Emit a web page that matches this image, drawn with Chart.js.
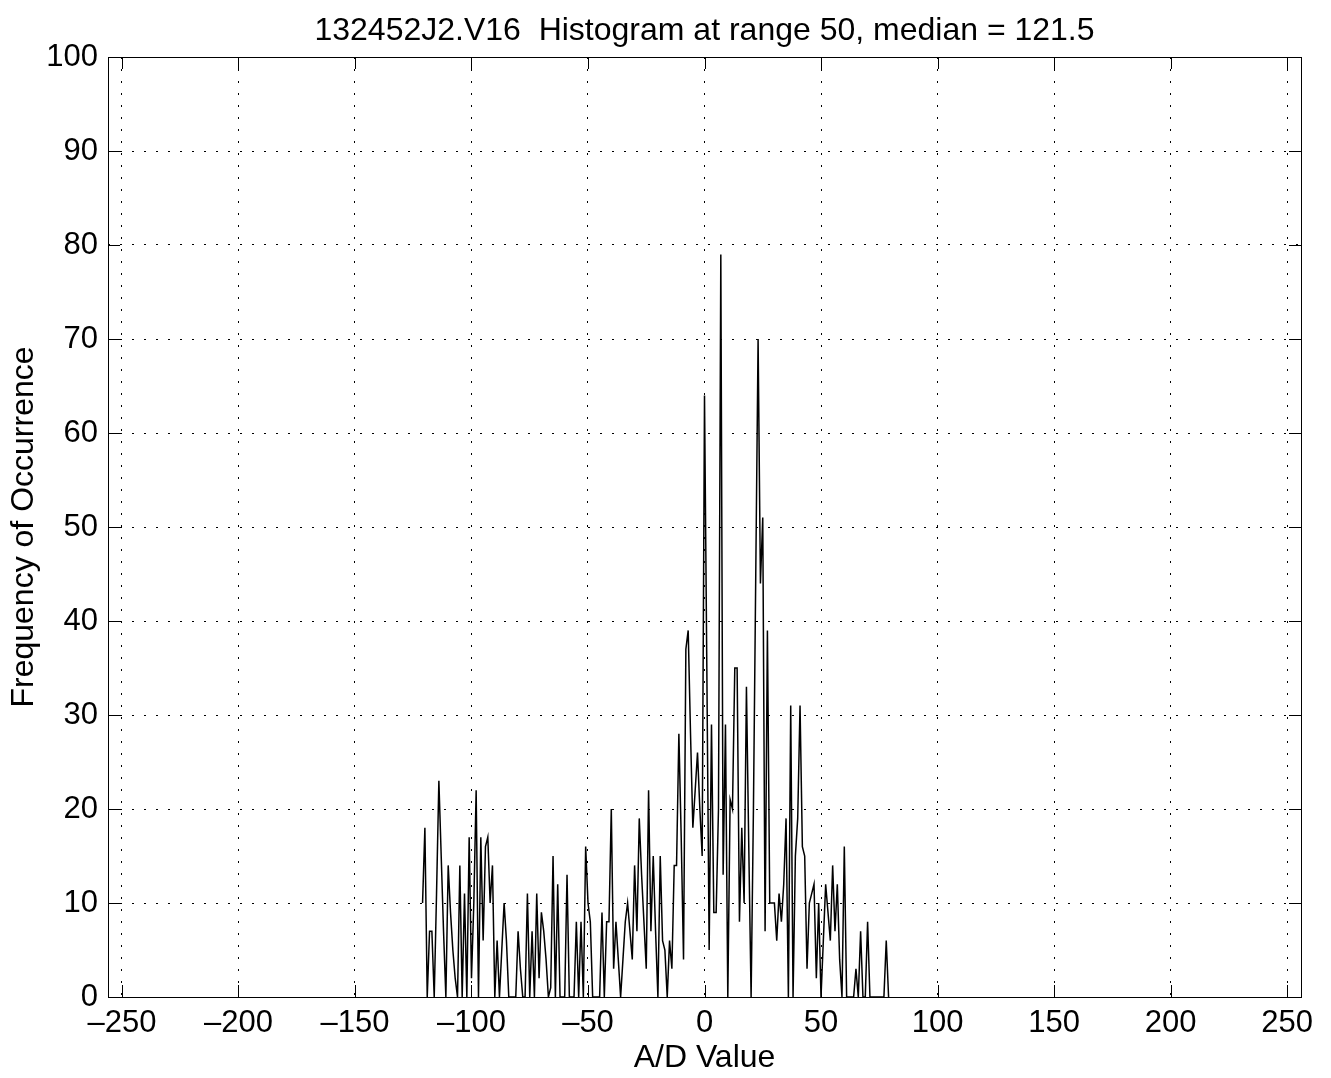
<!DOCTYPE html>
<html>
<head>
<meta charset="utf-8">
<script src="https://cdn.jsdelivr.net/npm/chart.js@4.4.1/dist/chart.umd.min.js"></script>
<style>
  html, body { margin: 0; padding: 0; background: #fff; }
  #wrap { width: 1331px; height: 1078px; }
</style>
</head>
<body>
<div id="wrap"><canvas id="histo" width="1331" height="1078"></canvas></div>
<script>
// A/D values start here and go up by one per count
const firstValue = -121;
const counts = [
  10, 18, 0, 7, 7, 0, 11, 23, 15, 7,          // -121 .. -112
  0, 14, 9, 5, 2, 0, 14, 0, 11, 0,            // -111 .. -102
  17, 2, 10, 22, 0, 17, 6, 16, 17, 10,        // -101 .. -92
  14, 0, 6, 0, 5, 10, 6, 0, 0, 0,             // -91 .. -82
  0, 7, 3, 0, 0, 11, 0, 7, 0, 11,             // -81 .. -72
  2, 9, 7, 4, 0, 1, 15, 0, 12, 0,             // -71 .. -62
  0, 0, 13, 0, 0, 0, 8, 0, 8, 0,              // -61 .. -52
  16, 10, 8, 0, 0, 0, 0, 9, 0, 8,             // -51 .. -42
  8, 20, 3, 8, 4, 0, 4, 8, 10, 7,             // -41 .. -32
  4, 14, 7, 19, 13, 8, 3, 22, 7, 15,          // -31 .. -22
  7, 0, 15, 6, 5, 0, 6, 3, 14, 14,            // -21 .. -12
  28, 17, 4, 37, 39, 28, 18, 22, 26, 20,      // -11 .. -2
  15, 64, 35, 5, 29, 9, 9, 20, 79, 13,        // -1 .. 8
  29, 0, 21, 20, 35, 35, 8, 18, 10, 33,       // 9 .. 18
  16, 0, 20, 45, 70, 44, 51, 7, 39, 10,       // 19 .. 28
  10, 10, 6, 11, 8, 12, 19, 0, 31, 0,         // 29 .. 38
  15, 19, 31, 16, 15, 3, 10, 11, 12, 2,       // 39 .. 48
  10, 0, 6, 12, 9, 6, 14, 7, 12, 4,           // 49 .. 58
  0, 16, 0, 0, 0, 0, 3, 0, 7, 0,              // 59 .. 68
  0, 8, 0, 0, 0, 0, 0, 0, 0, 6,               // 69 .. 78
  0                                           // 79
];
const xTicks = [-250, -200, -150, -100, -50, 0, 50, 100, 150, 200, 250];
const yTicks = [0, 10, 20, 30, 40, 50, 60, 70, 80, 90, 100];

const points = counts.map((c, i) => ({ x: firstValue + i, y: c }));

const FONT = "'Liberation Sans', Arial, Helvetica, sans-serif";
const dash = (v) => String(v).replace('-', '\u2013');

// box round the plot with inward tick marks on all four sides
const frame = {
  id: 'frame',
  afterDraw(chart) {
    const { ctx, chartArea: a, scales: { x, y } } = chart;
    const len = 12;
    ctx.save();
    ctx.strokeStyle = '#000';
    ctx.lineWidth = 1;
    ctx.beginPath();
    x.ticks.forEach((t) => {
      const px = Math.round(x.getPixelForValue(t.value)) + 0.5;
      ctx.moveTo(px, a.bottom); ctx.lineTo(px, a.bottom - len);
      ctx.moveTo(px, a.top); ctx.lineTo(px, a.top + len);
    });
    y.ticks.forEach((t) => {
      const py = Math.round(y.getPixelForValue(t.value)) + 0.5;
      ctx.moveTo(a.left, py); ctx.lineTo(a.left + len, py);
      ctx.moveTo(a.right, py); ctx.lineTo(a.right - len, py);
    });
    ctx.stroke();
    ctx.strokeRect(Math.round(a.left) + 0.5, Math.round(a.top) + 0.5,
      Math.round(a.right - a.left), Math.round(a.bottom - a.top));
    ctx.restore();
  }
};

new Chart(document.getElementById('histo'), {
  type: 'line',
  data: {
    datasets: [{
      data: points,
      borderColor: '#000',
      borderWidth: 1.5,
      pointRadius: 0,
      tension: 0,
      fill: false
    }]
  },
  options: {
    responsive: false,
    animation: false,
    devicePixelRatio: 1,
    layout: { padding: { left: 0, right: 30, top: 0, bottom: 0 } },
    plugins: {
      legend: { display: false },
      tooltip: { enabled: false },
      title: {
        display: true,
        fullSize: false,
        text: '132452J2.V16  Histogram at range 50, median = 121.5',
        color: '#000',
        font: { family: FONT, size: 32, weight: 'normal' },
        padding: { top: 12, bottom: 6.6 }
      }
    },
    scales: {
      x: {
        type: 'linear',
        min: -256,
        max: 256,
        afterBuildTicks: (s) => { s.ticks = xTicks.map((v) => ({ value: v })); },
        afterFit: (s) => { s.height = 81; },
        ticks: {
          color: '#000',
          font: { family: FONT, size: 31 },
          padding: 8,
          maxRotation: 0,
          callback: (v) => dash(v)
        },
        grid: { color: '#000', lineWidth: 1, drawTicks: false },
        border: { display: false, dash: [2, 10] },
        title: {
          display: true,
          text: 'A/D Value',
          color: '#000',
          font: { family: FONT, size: 32 },
          padding: { top: 0, bottom: 1 }
        }
      },
      y: {
        type: 'linear',
        min: 0,
        max: 100,
        afterBuildTicks: (s) => { s.ticks = yTicks.map((v) => ({ value: v })); },
        afterFit: (s) => { s.width = 108; },
        ticks: {
          color: '#000',
          font: { family: FONT, size: 31 },
          padding: 10
        },
        grid: { color: '#000', lineWidth: 1, drawTicks: false },
        border: { display: false, dash: [2, 10] },
        title: {
          display: true,
          text: 'Frequency of Occurrence',
          color: '#000',
          font: { family: FONT, size: 32 },
          padding: { top: 5, bottom: 0 }
        }
      }
    }
  },
  plugins: [frame]
});
</script>
</body>
</html>
